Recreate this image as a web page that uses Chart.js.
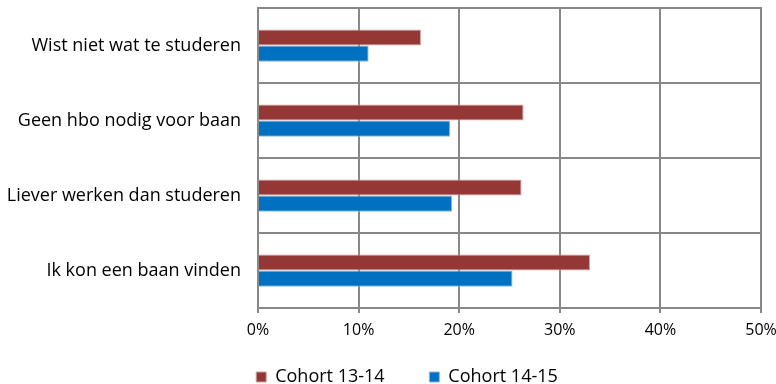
<!DOCTYPE html>
<html>
<head>
<meta charset="utf-8">
<script src="https://cdn.jsdelivr.net/npm/chart.js@4"></script>
<style>
  html, body { margin: 0; padding: 0; background: #fff; }
  #wrap { width: 776px; height: 384px; }
</style>
</head>
<body>
<div id="wrap"><canvas id="c" width="776" height="384"></canvas></div>
<script>
// Data
const categories = [
    'Wist niet wat te studeren',
    'Geen hbo nodig voor baan',
    'Liever werken dan studeren',
    'Ik kon een baan vinden',
];
const cohort1314 = [16.2, 26.4, 26.2, 33.0];
const cohort1415 = [11.0, 19.1, 19.3, 25.3];
const seriesNames = ['Cohort 13-14', 'Cohort 14-15'];
const xTicks = [0, 10, 20, 30, 40, 50];

const red = '#953735';
const blue = '#0070C0';
const gridColor = '#888888';

Chart.defaults.font.family = '"Open Sans", "DejaVu Sans", sans-serif';
Chart.defaults.font.size = 18;
Chart.defaults.color = '#000000';

new Chart(document.getElementById('c'), {
    type: 'bar',
    data: {
        labels: categories,
        datasets: [
            {
                label: seriesNames[0],
                data: cohort1314,
                backgroundColor: red,
                borderColor: '#c9a5a4',
                borderWidth: 1,
                borderSkipped: 'start',
            },
            {
                label: seriesNames[1],
                data: cohort1415,
                backgroundColor: blue,
                borderColor: '#8db8de',
                borderWidth: 1,
                borderSkipped: 'start',
            },
        ],
    },
    options: {
        responsive: false,
        animation: false,
        indexAxis: 'y',
        layout: {
            padding: { top: 8, right: 15, left: 0, bottom: 0 },
        },
        datasets: {
            bar: {
                categoryPercentage: 0.43,
                barPercentage: 1,
            },
        },
        plugins: {
            tooltip: { enabled: false },
            legend: {
                display: true,
                position: 'bottom',
                labels: {
                    boxWidth: 10,
                    boxHeight: 10,
                    padding: 26,
                    color: '#000000',
                    font: { size: 18 },
                    generateLabels: (chart) => {
                        const items = Chart.defaults.plugins.legend.labels.generateLabels(chart);
                        // wide gap between the two entries, as in the original
                        items[0].text = items[0].text + '    ';
                        return items;
                    },
                },
            },
        },
        scales: {
            x: {
                min: 0,
                max: 50,
                afterBuildTicks: (scale) => {
                    scale.ticks = xTicks.map((v) => ({ value: v }));
                },
                ticks: {
                    callback: (v) => v + '%',
                    padding: 8,
                    maxRotation: 0,
                    font: { size: 16 },
                },
                grid: {
                    color: gridColor,
                    lineWidth: 2,
                    tickLength: 5,
                },
                border: { color: gridColor, width: 2 },
                afterFit: (scale) => {
                    scale.height = 34;
                    scale.paddingLeft = 0;
                    scale.paddingRight = 0;
                },
            },
            y: {
                ticks: {
                    padding: 17,
                    font: { size: 18 },
                },
                grid: {
                    color: gridColor,
                    lineWidth: 2,
                    drawTicks: false,
                    offset: true,
                },
                border: { color: gridColor, width: 2 },
                afterFit: (scale) => {
                    scale.width = 258;
                    scale.paddingTop = 0;
                    scale.paddingBottom = 0;
                },
            },
        },
    },
    plugins: [
        {
            id: 'legendBox',
            afterInit(chart) {
                const lg = chart.legend;
                const fit = lg.fit.bind(lg);
                lg.fit = function () {
                    fit();
                    this.height = 42;
                };
            },
            afterLayout(chart) {
                // legend sits a bit right of the canvas centre
                chart.legend.left = 53;
            },
        },
        {
            id: 'topRight',
            afterDraw(chart) {
                // close the frame on the top and right like the original plot area
                const { ctx, chartArea } = chart;
                ctx.save();
                ctx.strokeStyle = gridColor;
                ctx.lineWidth = 2;
                ctx.beginPath();
                ctx.moveTo(chartArea.left, chartArea.top);
                ctx.lineTo(chartArea.right, chartArea.top);
                ctx.lineTo(chartArea.right, chartArea.bottom);
                ctx.stroke();
                ctx.restore();
            },
        },
    ],
});
</script>
</body>
</html>
